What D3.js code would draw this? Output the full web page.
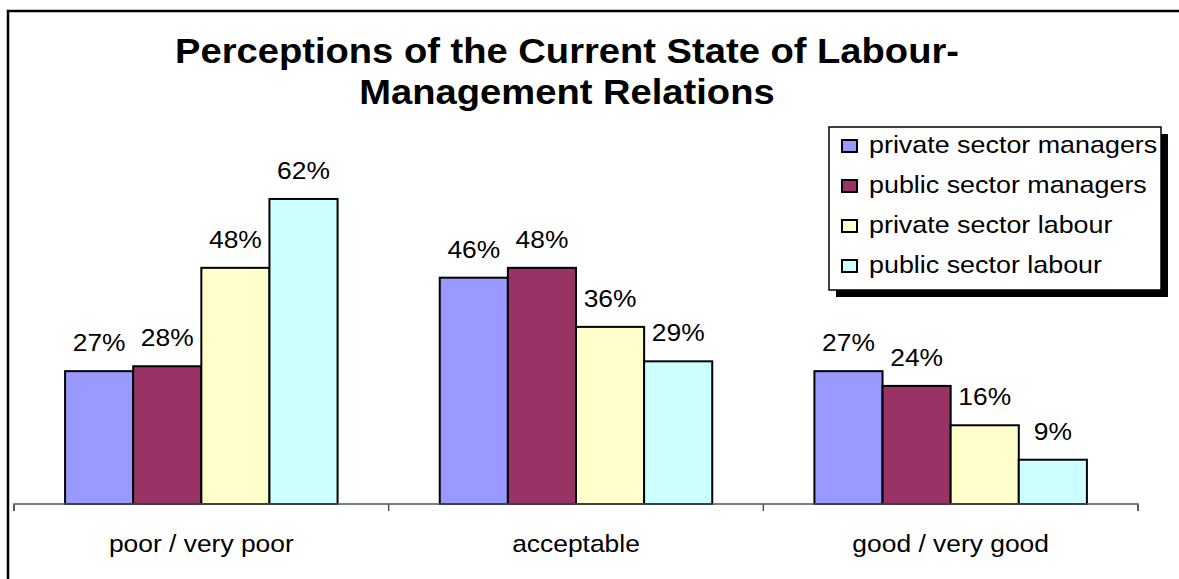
<!DOCTYPE html>
<html>
<head>
<meta charset="utf-8">
<script src="https://cdn.jsdelivr.net/npm/d3@7"></script>
<style>
  html, body { margin: 0; padding: 0; background: #fff; }
  svg { display: block; }
  text { font-family: Arial, "Liberation Sans", sans-serif; fill: #000; }
</style>
</head>
<body>
<svg id="chart" width="1179" height="579"></svg>
<script>
const categories = ["poor / very poor", "acceptable", "good / very good"];
const seriesNames = ["private sector managers", "public sector managers", "private sector labour", "public sector labour"];
const privateSectorManagers = [27, 46, 27];
const publicSectorManagers = [28, 48, 24];
const privateSectorLabour = [48, 36, 16];
const publicSectorLabour = [62, 29, 9];
const seriesValues = [privateSectorManagers, publicSectorManagers, privateSectorLabour, publicSectorLabour];
const seriesColors = ["#9999FF", "#993366", "#FFFFCC", "#CCFFFF"];
const titleLines = ["Perceptions of the Current State of Labour-", "Management Relations"];

const svg = d3.select("#chart");

// outer border (runs off right and bottom)
svg.append("rect").attr("x", 8).attr("y", 11).attr("width", 1200).attr("height", 600)
  .attr("fill", "#fff").attr("stroke", "#000").attr("stroke-width", 2.5);

const x0 = d3.scaleBand().domain(categories).range([14, 1138]).paddingInner(0).paddingOuter(0);
const x1 = d3.scaleBand().domain(d3.range(seriesNames.length)).range([0, x0.bandwidth()]).paddingOuter(0.75).paddingInner(0);
const y = d3.scaleLinear().domain([0, 70]).range([504, 159.6]);

const LSX = 1.1;

// bars
const groups = svg.append("g").selectAll("g").data(categories).join("g")
  .attr("transform", d => `translate(${x0(d)},0)`);
groups.each(function(cat, ci) {
  const g = d3.select(this);
  seriesNames.forEach((s, si) => {
    const v = seriesValues[si][ci];
    g.append("rect")
      .attr("x", x1(si)).attr("y", y(v))
      .attr("width", x1.bandwidth()).attr("height", y(0) - y(v))
      .attr("fill", seriesColors[si]).attr("stroke", "#000").attr("stroke-width", 2);
    g.append("text")
      .attr("transform", `translate(${x1(si) + x1.bandwidth() / 2},${y(v) - 20}) scale(${LSX},1)`)
      .attr("text-anchor", "middle").attr("font-size", 24)
      .text(v + "%");
  });
});

// x axis
const axis = svg.append("g").attr("transform", "translate(0,504)")
  .call(d3.axisBottom(x0).tickSize(7).tickFormat(""));
axis.select(".domain").attr("stroke", "#555").attr("stroke-width", 1.5)
  .attr("d", `M14,7V0H1138V7`);
axis.selectAll(".tick").remove();
const boundaries = [0, 1, 2, 3].map(i => i === 3 ? x0.range()[1] : x0(categories[i]));
axis.selectAll("line.b").data(boundaries).join("line").attr("class", "b")
  .attr("x1", d => d).attr("x2", d => d).attr("y1", 0).attr("y2", 7)
  .attr("stroke", "#555").attr("stroke-width", 1.5);
svg.append("g").selectAll("text").data(categories).join("text")
  .attr("transform", d => `translate(${x0(d) + x0.bandwidth() / 2},552) scale(${LSX},1)`)
  .attr("text-anchor", "middle").attr("font-size", 24)
  .text(d => d);

// title
svg.append("g").selectAll("text").data(titleLines).join("text")
  .attr("transform", (d, i) => `translate(567,${63 + i * 41}) scale(1.09,1)`)
  .attr("text-anchor", "middle").attr("font-size", 35).attr("font-weight", "bold")
  .text(d => d);

// legend
const lg = svg.append("g").attr("transform", "translate(829,127)");
lg.append("rect").attr("x", 7).attr("y", 7).attr("width", 332).attr("height", 163).attr("fill", "#000");
lg.append("rect").attr("x", 0).attr("y", 0).attr("width", 332).attr("height", 163)
  .attr("fill", "#fff").attr("stroke", "#000").attr("stroke-width", 1.5);
seriesNames.forEach((s, i) => {
  const yy = 26 + i * 40;
  lg.append("rect").attr("x", 13).attr("y", yy - 13).attr("width", 15).attr("height", 12)
    .attr("fill", seriesColors[i]).attr("stroke", "#000").attr("stroke-width", 2);
  lg.append("text").attr("transform", `translate(40,${yy}) scale(1.12,1)`)
    .attr("font-size", 24).text(s);
});
</script>
</body>
</html>
